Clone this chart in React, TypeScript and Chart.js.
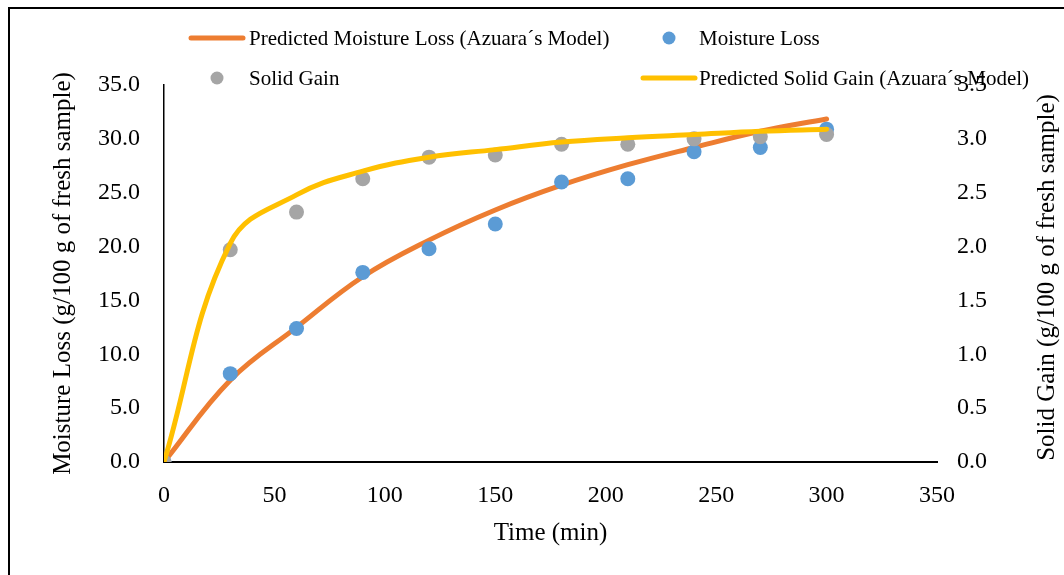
import React, { useEffect, useRef } from "react";
import { Chart, registerables } from "chart.js";

Chart.register(...registerables);

// Immersion time (min)
const times = [0, 30, 60, 90, 120, 150, 180, 210, 240, 270, 300];

// Moisture loss (g/100 g of fresh sample), experimental and Azuara model
const moistureLoss = [0, 8.2, 12.4, 17.6, 19.8, 22.1, 26.0, 26.3, 28.8, 29.2, 30.9];
const predictedMoistureLoss = [0, 7.6, 12.5, 17.2, 20.6, 23.4, 25.7, 27.6, 29.2, 30.7, 31.85];

// Solid gain (g/100 g of fresh sample), experimental and Azuara model
const solidGain = [0, 1.97, 2.32, 2.63, 2.83, 2.85, 2.95, 2.95, 3.0, 3.02, 3.04];
const predictedSolidGain = [0, 2.03, 2.48, 2.7, 2.83, 2.9, 2.97, 3.01, 3.04, 3.07, 3.09];

const xTicks = [0, 50, 100, 150, 200, 250, 300, 350];
const leftTicks = [0, 5, 10, 15, 20, 25, 30, 35];
const rightTicks = [0, 0.5, 1, 1.5, 2, 2.5, 3, 3.5];

const labels = {
  predML: "Predicted Moisture Loss (Azuara\u00b4s Model)",
  ml: "Moisture Loss",
  sg: "Solid Gain",
  predSG: "Predicted Solid Gain (Azuara\u00b4s Model)",
};

const rightTitle = "Solid Gain (g/100 g of fresh sample)";

const COLORS = {
  orange: "#ED7D31",
  blue: "#5B9BD5",
  gray: "#A5A5A5",
  yellow: "#FFC000",
};

const FONT = "'Liberation Serif', 'Times New Roman', serif";

const toPoints = (ys: number[]) => times.map((t, i) => ({ x: t, y: ys[i] }));

// Two-column legend grid at the top of the chart
const legendSlots = [
  { label: labels.predML, kind: "line", color: COLORS.orange, col: 0, row: 0 },
  { label: labels.ml, kind: "dot", color: COLORS.blue, col: 1, row: 0 },
  { label: labels.sg, kind: "dot", color: COLORS.gray, col: 0, row: 1 },
  { label: labels.predSG, kind: "line", color: COLORS.yellow, col: 1, row: 1 },
];

const gridLegend = {
  id: "gridLegend",
  afterDraw(chart: Chart) {
    const ctx = chart.ctx;
    const symX = [217, 669];
    const textX = [249, 699];
    const rowY = [38, 78];
    ctx.save();
    ctx.font = `21px ${FONT}`;
    ctx.textBaseline = "middle";
    ctx.textAlign = "left";
    for (const s of legendSlots) {
      const cx = symX[s.col];
      const cy = rowY[s.row];
      if (s.kind === "line") {
        ctx.strokeStyle = s.color;
        ctx.lineWidth = 5;
        ctx.lineCap = "round";
        ctx.beginPath();
        ctx.moveTo(cx - 26, cy);
        ctx.lineTo(cx + 26, cy);
        ctx.stroke();
      } else {
        ctx.fillStyle = s.color;
        ctx.beginPath();
        ctx.arc(cx, cy, 6.5, 0, Math.PI * 2);
        ctx.fill();
      }
      ctx.fillStyle = "#000";
      ctx.fillText(s.label, textX[s.col], cy + 1);
    }
    ctx.restore();
  },
};

// Secondary axis title, read bottom-to-top like the primary one
const rightAxisTitle = {
  id: "rightAxisTitle",
  afterDraw(chart: Chart) {
    const ctx = chart.ctx;
    const area = chart.chartArea;
    ctx.save();
    ctx.translate(1047, (area.top + area.bottom) / 2 + 4);
    ctx.rotate(-Math.PI / 2);
    ctx.font = `25px ${FONT}`;
    ctx.fillStyle = "#000";
    ctx.textAlign = "center";
    ctx.textBaseline = "middle";
    ctx.fillText(rightTitle, 0, 0);
    ctx.restore();
  },
};

export default function App() {
  const canvasRef = useRef<HTMLCanvasElement | null>(null);

  useEffect(() => {
    document.body.style.margin = "0";
    const canvas = canvasRef.current;
    if (!canvas) return;

    const chart = new Chart(canvas, {
      type: "line",
      data: {
        datasets: [
          {
            label: labels.predSG,
            data: toPoints(predictedSolidGain),
            yAxisID: "y2",
            borderColor: COLORS.yellow,
            backgroundColor: COLORS.yellow,
            borderWidth: 5,
            pointRadius: 0,
            tension: 0.4,
            borderCapStyle: "round",
            order: 0,
          },
          {
            label: labels.sg,
            data: toPoints(solidGain),
            yAxisID: "y2",
            showLine: false,
            pointRadius: 7.5,
            pointBorderWidth: 0,
            pointBackgroundColor: COLORS.gray,
            borderColor: COLORS.gray,
            order: 1,
          },
          {
            label: labels.ml,
            data: toPoints(moistureLoss),
            yAxisID: "y",
            showLine: false,
            pointRadius: 7.5,
            pointBorderWidth: 0,
            pointBackgroundColor: COLORS.blue,
            borderColor: COLORS.blue,
            order: 2,
          },
          {
            label: labels.predML,
            data: toPoints(predictedMoistureLoss),
            yAxisID: "y",
            borderColor: COLORS.orange,
            backgroundColor: COLORS.orange,
            borderWidth: 5,
            pointRadius: 0,
            tension: 0.4,
            borderCapStyle: "round",
            order: 3,
          },
        ],
      },
      options: {
        responsive: false,
        animation: false,
        devicePixelRatio: 1,
        layout: { padding: { top: 85, left: 0, right: 0, bottom: 0 } },
        plugins: {
          legend: { display: false },
          tooltip: { enabled: false },
        },
        scales: {
          x: {
            type: "linear",
            min: 0,
            max: 350,
            afterBuildTicks: (s: any) => {
              s.ticks = xTicks.map((v) => ({ value: v }));
            },
            afterFit: (s: any) => {
              s.height = 113;
            },
            grid: { display: false, drawTicks: false },
            border: { display: true, color: "#000", width: 2 },
            ticks: {
              color: "#000",
              padding: 19,
              font: { family: FONT, size: 24 },
              maxRotation: 0,
            },
            title: {
              display: true,
              text: "Time (min)",
              color: "#000",
              font: { family: FONT, size: 25 },
              padding: { top: 27, bottom: 27 },
            },
          },
          y: {
            type: "linear",
            position: "left",
            min: 0,
            max: 35,
            afterBuildTicks: (s: any) => {
              s.ticks = leftTicks.map((v) => ({ value: v }));
            },
            afterFit: (s: any) => {
              s.width = 164;
            },
            grid: { display: false, drawTicks: false },
            border: { display: true, color: "#000", width: 1.5 },
            ticks: {
              color: "#000",
              padding: 24,
              font: { family: FONT, size: 24 },
              callback: (v: any) => Number(v).toFixed(1),
            },
            title: {
              display: true,
              text: "Moisture Loss (g/100 g of fresh sample)",
              color: "#000",
              font: { family: FONT, size: 25 },
              padding: { top: 48, bottom: 48 },
            },
          },
          y2: {
            type: "linear",
            position: "right",
            min: 0,
            max: 3.5,
            afterBuildTicks: (s: any) => {
              s.ticks = rightTicks.map((v) => ({ value: v }));
            },
            afterFit: (s: any) => {
              s.width = 127;
            },
            grid: { display: false, drawTicks: false },
            border: { display: false },
            ticks: {
              color: "#000",
              padding: 20,
              font: { family: FONT, size: 24 },
              callback: (v: any) => Number(v).toFixed(1),
            },
            title: { display: false },
          },
        },
      },
      plugins: [gridLegend, rightAxisTitle],
    });

    return () => chart.destroy();
  }, []);

  return (
    <div style={{ position: "relative", width: 1064, height: 575, overflow: "hidden", background: "#fff" }}>
      <div
        style={{
          position: "absolute",
          left: 8,
          top: 7,
          width: 1100,
          height: 600,
          borderTop: "2px solid #000",
          borderLeft: "2px solid #000",
          boxSizing: "border-box",
        }}
      />
      <canvas
        ref={canvasRef}
        width={1064}
        height={575}
        style={{ position: "absolute", left: 0, top: 0, width: 1064, height: 575 }}
      />
    </div>
  );
}
